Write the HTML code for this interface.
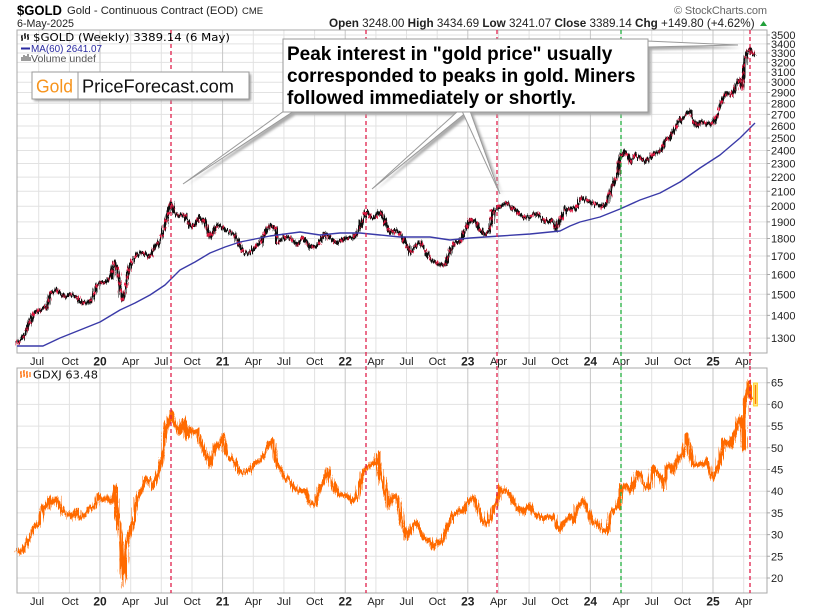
<!DOCTYPE html>
<html><head><meta charset="utf-8">
<style>
html,body{margin:0;padding:0;background:#fff;}
svg{display:block;font-family:"Liberation Sans",Arial,sans-serif;}
</style></head><body>
<svg id="c" width="813" height="610" viewBox="0 0 813 610" xmlns="http://www.w3.org/2000/svg">
<defs>
<filter id="blur" x="-10%" y="-10%" width="130%" height="130%"><feGaussianBlur stdDeviation="1.2"/></filter>
<filter id="jag" x="-3%" y="-10%" width="106%" height="120%">
<feTurbulence type="fractalNoise" baseFrequency="0.7 0.03" numOctaves="2" seed="3" result="n"/>
<feDisplacementMap in="SourceGraphic" in2="n" scale="8" xChannelSelector="B" yChannelSelector="G"/>
</filter>
<filter id="jag2" x="-3%" y="-10%" width="106%" height="120%">
<feTurbulence type="fractalNoise" baseFrequency="0.9 0.04" numOctaves="2" seed="11" result="n"/>
<feDisplacementMap in="SourceGraphic" in2="n" scale="8" xChannelSelector="B" yChannelSelector="G"/>
</filter>
<filter id="jag3" x="-3%" y="-10%" width="106%" height="120%">
<feTurbulence type="fractalNoise" baseFrequency="0.8 0.03" numOctaves="2" seed="5" result="n"/>
<feDisplacementMap in="SourceGraphic" in2="n" scale="9" xChannelSelector="B" yChannelSelector="G"/>
</filter>
</defs>
<rect width="813" height="610" fill="#fff"/>

<!-- header -->
<text x="17" y="15" font-size="14" font-weight="bold" textLength="45" lengthAdjust="spacingAndGlyphs">$GOLD</text>
<text x="67" y="14" font-size="11" fill="#222" textLength="171" lengthAdjust="spacingAndGlyphs">Gold - Continuous Contract (EOD)</text>
<text x="242" y="14" font-size="9.5" fill="#222">CME</text>
<text x="17" y="27" font-size="11" fill="#222" textLength="57" lengthAdjust="spacingAndGlyphs">6-May-2025</text>
<text x="329" y="27" font-size="11.7" fill="#222"><tspan font-weight="bold">Open</tspan> 3248.00 <tspan font-weight="bold">High</tspan> 3434.69 <tspan font-weight="bold">Low</tspan> 3241.07 <tspan font-weight="bold">Close</tspan> 3389.14 <tspan font-weight="bold">Chg</tspan> +149.80 (+4.62%)</text>
<polygon points="760,26 767,26 763.5,21" fill="#22a03a"/>
<text x="674" y="14" font-size="11" fill="#666" textLength="93" lengthAdjust="spacing">© StockCharts.com</text>

<!-- grids -->
<g stroke="#e2e2e2" stroke-width="1" fill="none">
<path d="M17 35H767M17 43.9H767M17 53H767M17 62.4H767M17 72.1H767M17 82.2H767M17 92.5H767M17 103.3H767M17 114.4H767M17 126H767M17 138H767M17 150.5H767M17 163.5H767M17 177.1H767M17 191.3H767M17 206.2H767M17 221.9H767M17 238.5H767M17 256H767M17 274.5H767M17 294.3H767M17 315.4H767M17 338.1H767"/>
<path d="M38.7 30V353M69.4 30V353M130.7 30V353M161.3 30V353M192 30V353M253.3 30V353M283.9 30V353M314.6 30V353M375.9 30V353M406.5 30V353M437.2 30V353M498.5 30V353M529.1 30V353M559.8 30V353M621.1 30V353M651.7 30V353M682.4 30V353M743.7 30V353"/>
<path d="M17 382.7H767M17 404.4H767M17 426.1H767M17 447.8H767M17 469.5H767M17 491.2H767M17 512.9H767M17 534.6H767M17 556.3H767M17 578H767"/>
<path d="M38.7 368V593M69.4 368V593M130.7 368V593M161.3 368V593M192 368V593M253.3 368V593M283.9 368V593M314.6 368V593M375.9 368V593M406.5 368V593M437.2 368V593M498.5 368V593M529.1 368V593M559.8 368V593M621.1 368V593M651.7 368V593M682.4 368V593M743.7 368V593"/>
</g>
<g stroke="#c6c6c6" stroke-width="1" fill="none">
<path d="M100 30V353M222.6 30V353M345.2 30V353M467.8 30V353M590.4 30V353M713 30V353"/>
<path d="M100 368V593M222.6 368V593M345.2 368V593M467.8 368V593M590.4 368V593M713 368V593"/>
</g>

<rect x="17" y="30" width="750" height="323" fill="none" stroke="#a8a8a8"/>
<rect x="17" y="368" width="750" height="225" fill="none" stroke="#a8a8a8"/>

<g stroke="#a8a8a8">
<path d="M767 35h3M767 43.9h3M767 53h3M767 62.4h3M767 72.1h3M767 82.2h3M767 92.5h3M767 103.3h3M767 114.4h3M767 126h3M767 138h3M767 150.5h3M767 163.5h3M767 177.1h3M767 191.3h3M767 206.2h3M767 221.9h3M767 238.5h3M767 256h3M767 274.5h3M767 294.3h3M767 315.4h3M767 338.1h3"/>
<path d="M767 382.7h3M767 404.4h3M767 426.1h3M767 447.8h3M767 469.5h3M767 491.2h3M767 512.9h3M767 534.6h3M767 556.3h3M767 578h3"/>
</g>
<g font-size="11" fill="#222">
<text x="771" y="39">3500</text><text x="771" y="48">3400</text><text x="771" y="57">3300</text><text x="771" y="66.4">3200</text>
<text x="771" y="76.1">3100</text><text x="771" y="86.2">3000</text><text x="771" y="96.5">2900</text><text x="771" y="107.3">2800</text>
<text x="771" y="118.4">2700</text><text x="771" y="130">2600</text><text x="771" y="142">2500</text><text x="771" y="154.5">2400</text>
<text x="771" y="167.5">2300</text><text x="771" y="181.1">2200</text><text x="771" y="195.3">2100</text><text x="771" y="210.2">2000</text>
<text x="771" y="225.9">1900</text><text x="771" y="242.5">1800</text><text x="771" y="260">1700</text><text x="771" y="278.5">1600</text>
<text x="771" y="298.3">1500</text><text x="771" y="319.4">1400</text><text x="771" y="342.1">1300</text>
<text x="771" y="386.7">65</text><text x="771" y="408.4">60</text><text x="771" y="430.1">55</text><text x="771" y="451.8">50</text>
<text x="771" y="473.5">45</text><text x="771" y="495.2">40</text><text x="771" y="516.9">35</text><text x="771" y="538.6">30</text>
<text x="771" y="560.3">25</text><text x="771" y="582">20</text>
</g>

<g font-size="11" fill="#222" text-anchor="middle">
<text x="37" y="365">Jul</text><text x="70" y="365">Oct</text><text x="100" y="365.5" font-weight="bold" font-size="12">20</text>
<text x="130.7" y="365">Apr</text><text x="161.3" y="365">Jul</text><text x="192" y="365">Oct</text><text x="222.6" y="365.5" font-weight="bold" font-size="12">21</text>
<text x="253.3" y="365">Apr</text><text x="283.9" y="365">Jul</text><text x="314.6" y="365">Oct</text><text x="345.2" y="365.5" font-weight="bold" font-size="12">22</text>
<text x="375.9" y="365">Apr</text><text x="406.5" y="365">Jul</text><text x="437.2" y="365">Oct</text><text x="467.8" y="365.5" font-weight="bold" font-size="12">23</text>
<text x="498.5" y="365">Apr</text><text x="529.1" y="365">Jul</text><text x="559.8" y="365">Oct</text><text x="590.4" y="365.5" font-weight="bold" font-size="12">24</text>
<text x="621.1" y="365">Apr</text><text x="651.7" y="365">Jul</text><text x="682.4" y="365">Oct</text><text x="713" y="365.5" font-weight="bold" font-size="12">25</text>
<text x="743.7" y="365">Apr</text>
</g>
<g font-size="11" fill="#222" text-anchor="middle">
<text x="37" y="605">Jul</text><text x="70" y="605">Oct</text><text x="100" y="605.5" font-weight="bold" font-size="12">20</text>
<text x="130.7" y="605">Apr</text><text x="161.3" y="605">Jul</text><text x="192" y="605">Oct</text><text x="222.6" y="605.5" font-weight="bold" font-size="12">21</text>
<text x="253.3" y="605">Apr</text><text x="283.9" y="605">Jul</text><text x="314.6" y="605">Oct</text><text x="345.2" y="605.5" font-weight="bold" font-size="12">22</text>
<text x="375.9" y="605">Apr</text><text x="406.5" y="605">Jul</text><text x="437.2" y="605">Oct</text><text x="467.8" y="605.5" font-weight="bold" font-size="12">23</text>
<text x="498.5" y="605">Apr</text><text x="529.1" y="605">Jul</text><text x="559.8" y="605">Oct</text><text x="590.4" y="605.5" font-weight="bold" font-size="12">24</text>
<text x="621.1" y="605">Apr</text><text x="651.7" y="605">Jul</text><text x="682.4" y="605">Oct</text><text x="713" y="605.5" font-weight="bold" font-size="12">25</text>
<text x="743.7" y="605">Apr</text>
</g>

<!-- gold series -->
<g filter="url(#jag)">
<polyline fill="none" stroke="#111" stroke-width="3.3" stroke-linejoin="round" points="17,343 22,340 27,330 33,313 40,310 47,307 50,293 55,290 60,293 65,297 70,294 77,297 80,302 88,303 93,298 98,283 103,283 108,280 111,276 114,262 117,268 120,290 123,300 126,285 130,265 134,258 140,253 145,253 150,257 155,247 160,240 165,227 168,213 171,203 175,213 180,215 185,215 190,227 195,225 200,217 205,222 210,238 215,228 220,225 225,230 230,232 235,235 240,247 245,253 250,252 255,247 260,243 265,233 270,225 275,228 278,243 285,237 290,238 297,245 303,238 310,248 318,245 325,233 330,238 337,243 345,238 352,238 358,232 363,220 366,212 370,217 375,218 380,212 385,223 390,233 395,230 400,233 405,242 410,253 415,247 420,242 425,250 430,257 435,262 440,265 445,265 450,250 455,243 460,242 465,230 470,220 475,220 480,230 485,235 490,230 492,212 497,208 502,205 507,203 512,208 517,213 522,215 527,218 532,215 537,213 542,218 547,222 552,220 556,230 562,217 566,208 572,210 577,207 581,198 587,200 592,203 597,205 602,207 607,202 612,187 617,177 620,160 623,152 627,155 630,162 635,155 640,158 645,162 650,157 655,152 660,152 665,140 670,138 675,128 680,120 685,115 690,112 693,120 697,127 700,122 705,123 710,125 713,123 718,112 723,98 727,93 732,95 736,85 740,80 742,88 745,60 748,52 751,48 754,55"/>
</g>
<g filter="url(#jag2)">
<polyline fill="none" stroke="#e0143e" stroke-width="2.6" stroke-dasharray="3,5" stroke-linejoin="round" points="17,343 22,340 27,330 33,313 40,310 47,307 50,293 55,290 60,293 65,297 70,294 77,297 80,302 88,303 93,298 98,283 103,283 108,280 111,276 114,262 117,268 120,290 123,300 126,285 130,265 134,258 140,253 145,253 150,257 155,247 160,240 165,227 168,213 171,203 175,213 180,215 185,215 190,227 195,225 200,217 205,222 210,238 215,228 220,225 225,230 230,232 235,235 240,247 245,253 250,252 255,247 260,243 265,233 270,225 275,228 278,243 285,237 290,238 297,245 303,238 310,248 318,245 325,233 330,238 337,243 345,238 352,238 358,232 363,220 366,212 370,217 375,218 380,212 385,223 390,233 395,230 400,233 405,242 410,253 415,247 420,242 425,250 430,257 435,262 440,265 445,265 450,250 455,243 460,242 465,230 470,220 475,220 480,230 485,235 490,230 492,212 497,208 502,205 507,203 512,208 517,213 522,215 527,218 532,215 537,213 542,218 547,222 552,220 556,230 562,217 566,208 572,210 577,207 581,198 587,200 592,203 597,205 602,207 607,202 612,187 617,177 620,160 623,152 627,155 630,162 635,155 640,158 645,162 650,157 655,152 660,152 665,140 670,138 675,128 680,120 685,115 690,112 693,120 697,127 700,122 705,123 710,125 713,123 718,112 723,98 727,93 732,95 736,85 740,80 742,88 745,60 748,52 751,48 754,55"/>
</g>
<polyline fill="none" stroke="#3a3aa8" stroke-width="1.4" stroke-linejoin="round" points="17,346 43,346 60,338 80,330 100,322 120,310 135,303 150,295 165,285 180,270 195,262 210,253 225,247 240,242 255,239 270,236 285,234 300,232 320,235 340,233 360,233 380,235 400,237 430,237 450,240 470,238 500,236 530,234 560,231 570,226 580,222 600,217 620,209 640,200 660,193 680,182 700,168 720,155 740,138 755,123"/>

<!-- GDXJ series -->
<g filter="url(#jag3)">
<polyline fill="none" stroke="#ff6a00" stroke-width="4.2" stroke-linejoin="round" points="17,549 23,552 27,543 30,538 33,528 37,525 40,522 43,507 47,508 50,498 53,503 57,498 60,508 63,513 67,515 70,513 73,517 77,510 80,517 85,515 90,508 95,508 98,495 103,500 107,497 110,502 113,500 115,487 117,513 120,527 122,570 123,585 124,577 126,550 128,540 131,527 134,522 137,498 140,493 143,487 146,478 150,480 153,487 157,477 160,467 163,447 166,428 169,420 171,413 174,425 177,427 180,433 183,420 187,437 190,428 193,433 197,430 200,440 203,447 207,457 210,465 213,453 217,443 220,445 223,435 225,453 230,457 235,462 240,473 245,472 250,470 255,463 260,460 265,453 270,442 273,440 277,465 280,468 285,477 290,480 295,488 300,492 305,490 310,503 315,505 320,487 325,480 328,470 332,483 337,495 342,495 347,495 352,502 357,497 360,485 363,473 367,468 370,465 375,463 378,453 380,475 383,483 386,492 389,507 393,495 397,497 400,512 403,527 407,537 410,532 413,525 417,523 420,530 423,537 427,540 430,540 433,547 437,542 440,543 443,540 447,527 450,522 453,515 457,513 460,510 463,512 467,503 470,500 473,497 477,505 480,515 483,522 487,525 490,520 493,508 497,503 500,487 503,490 507,492 510,493 513,502 517,508 520,507 523,512 527,507 530,505 533,512 537,515 540,517 543,520 547,517 550,518 553,515 557,527 560,530 563,522 567,522 570,517 573,522 577,507 580,505 583,500 587,508 590,513 593,522 597,523 600,528 603,530 607,532 610,513 613,510 617,508 619,503 621,490 624,485 627,487 630,492 633,487 637,473 640,473 643,483 647,488 650,487 653,467 657,473 660,478 663,488 667,467 670,465 673,473 677,460 680,455 683,455 687,435 690,447 693,465 697,465 700,463 703,465 707,460 710,473 713,478 717,470 720,460 723,440 727,443 730,447 733,438 737,427 740,417 742,423 744,448 745,400 748,383 751,398 753,400"/>
</g>
<rect x="753.5" y="383" width="4" height="23" fill="#ffe27a" stroke="#ffd21a" stroke-width="0.8"/>
<line x1="755.5" y1="385" x2="755.5" y2="404" stroke="#ff7a00" stroke-width="1.3"/>

<!-- vertical dashed markers -->
<g stroke-width="1.3" stroke-dasharray="4,3" fill="none">
<path d="M171 30V593M366 30V593M497 30V593M750 30V593" stroke="#e0204c"/>
<path d="M621 30V593" stroke="#22b040"/>
</g>

<!-- legends -->
<g>
<path d="M22 35v6M22 37h-1M22 39h1M25 33v6M25 35h-1M25 37h1M28 34v6M28 36h-1M28 38h1" stroke="#000" stroke-width="1.2"/>
<text x="33" y="41" font-family="DejaVu Sans, sans-serif" font-size="10.5" fill="#000" textLength="197" lengthAdjust="spacingAndGlyphs">$GOLD (Weekly) 3389.14 (6 May)</text>
<line x1="21" y1="48.5" x2="30" y2="48.5" stroke="#2a2aa0" stroke-width="2"/>
<text x="31" y="52" font-size="10.5" fill="#2a2aa0" textLength="71" lengthAdjust="spacingAndGlyphs">MA(60) 2641.07</text>
<path d="M22 61v-4M24 61v-6M26 61v-5M28 61v-7M30 61v-4" stroke="#666" stroke-width="1.3"/>
<text x="31" y="62" font-size="10.5" fill="#555" textLength="65" lengthAdjust="spacingAndGlyphs">Volume undef</text>
<path d="M21 371v7M21 373h-1M21 376h1M24 370v7M24 372h-1M24 375h1M27 371v7M27 373h-1M27 376h1M30 372v5" stroke="#ff6a00" stroke-width="1.2"/>
<text x="33" y="378.5" font-family="DejaVu Sans, sans-serif" font-size="10.5" fill="#111" textLength="65" lengthAdjust="spacingAndGlyphs">GDXJ 63.48</text>
</g>

<!-- Gold logo box -->
<rect x="34" y="74" width="217" height="27" fill="#999" filter="url(#blur)"/>
<rect x="32" y="72" width="217" height="27" fill="#fff" stroke="#9a9a9a"/>
<line x1="78" y1="72" x2="78" y2="99" stroke="#9a9a9a"/>
<text x="36" y="92.5" font-size="18" fill="#f7941d" textLength="37" lengthAdjust="spacingAndGlyphs">Gold</text>
<text x="82" y="92.5" font-size="18" fill="#111" textLength="152" lengthAdjust="spacingAndGlyphs">PriceForecast.com</text>

<!-- callout -->
<g filter="url(#blur)" fill="#a8a8a8">
<rect x="286" y="42" width="365" height="73"/>
<polygon points="287,114 297,114 186,186"/>
<polygon points="461,114 471,114 375,191"/>
<polygon points="465,114 473,114 503,196"/>
<polygon points="640,42 651,42 651,50 741,48"/>
</g>
<g fill="#fff" stroke="#9a9a9a" stroke-width="1">
<polygon points="284,111 294,111 183,184"/>
<polygon points="458,111 468,111 372,189"/>
<polygon points="462,111 470,111 500,194"/>
<polygon points="600,39 738,45 648,47 648,39"/>
</g>
<rect x="283" y="39" width="365" height="73" fill="#fff" stroke="#9a9a9a"/>
<g font-size="19" font-weight="bold" fill="#000">
<text x="287" y="60">Peak interest in "gold price" usually</text>
<text x="287" y="82">corresponded to peaks in gold. Miners</text>
<text x="287" y="104">followed immediately or shortly.</text>
</g>
</svg>
</body></html>
